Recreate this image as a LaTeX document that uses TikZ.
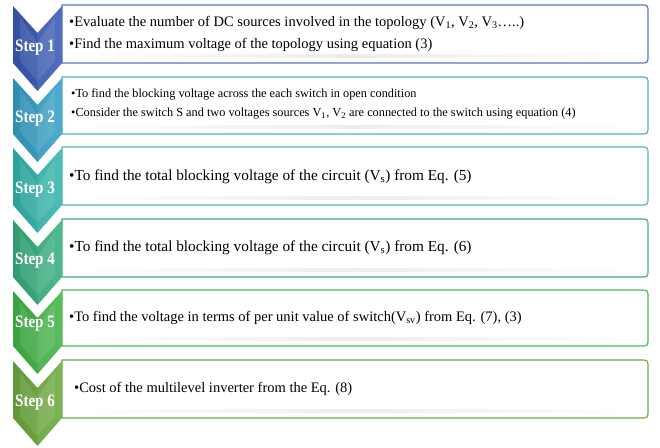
\documentclass[tikz,border=0pt]{standalone}
\usepackage{fontspec}
\setmainfont{Liberation Serif}
\usetikzlibrary{calc}

\definecolor{cA}{HTML}{3A5CB6}\definecolor{bA}{HTML}{5678C6}
\definecolor{cB}{HTML}{36A0C8}\definecolor{bB}{HTML}{4DAFC6}
\definecolor{cC}{HTML}{33B6AE}\definecolor{bC}{HTML}{4DBCAE}
\definecolor{cD}{HTML}{36B07E}\definecolor{bD}{HTML}{40AE78}
\definecolor{cE}{HTML}{44B648}\definecolor{bE}{HTML}{52B655}
\definecolor{cF}{HTML}{6DAB3F}\definecolor{bF}{HTML}{70A846}

\tikzset{
  steptext/.style={font=\fontsize{14.5}{16}\selectfont, anchor=west, inner sep=0pt},
  bigtext/.style={font=\fontsize{15.3}{17}\selectfont, anchor=west, inner sep=0pt},
  smalltext/.style={font=\fontsize{12.3}{14}\selectfont, anchor=west, inner sep=0pt},
  steplabel/.style={font=\bfseries\fontsize{17.5}{19}\selectfont, text=white, inner sep=0pt, xscale=0.86},
}

% one step: #1 top of box, #2 bottom of box, #3 fill colour, #4 border colour, #5 name
\newcommand{\stepblock}[5]{%
  % text panel with rounded right corners
  \draw[#4, line width=1.2pt, fill=white]
    (62,#1) -- (640,#1) .. controls (648,#1) .. (648,#1+8)
    -- (648,#2-8) .. controls (648,#2) .. (640,#2) -- (62,#2) -- cycle;
  \shade[left color=white, right color=white, middle color=gray!14]
    (72,#2-9) rectangle (638,#2-6);
  % chevron
  \coordinate (#5-tl) at (13,#1+1);
  \coordinate (#5-n)  at (37.5,#1+28);
  \coordinate (#5-tr) at (62,#1+1);
  \coordinate (#5-br) at (62,#2);
  \coordinate (#5-p)  at (37.5,#2+28);
  \coordinate (#5-bl) at (13,#2);
  \shade[left color=#3!88!black, right color=#3!96!white]
    (#5-tl) -- (#5-n) -- (#5-tr) -- (#5-br) -- (#5-p) -- (#5-bl) -- cycle;
  \fill[white, opacity=0.08]
    (#5-n) -- (#5-tr) -- (#5-br) -- (#5-p) -- cycle;
  \fill[white, opacity=0.10]
    ($(#5-n)+(0,10)$) -- (55,#1+12) -- (55,#2-2) -- ($(#5-p)+(0,-10)$) -- (20,#2-2) -- (20,#1+12) -- cycle;
}

\begin{document}
\begin{tikzpicture}[x=1pt, y=-1pt]
\useasboundingbox (0,0) rectangle (660,447);
\fill[white] (0,0) rectangle (660,447);

\stepblock{5}{63}{cA}{bA}{s1}
\stepblock{77}{134}{cB}{bB}{s2}
\stepblock{147}{205}{cC}{bC}{s3}
\stepblock{219}{277}{cD}{bD}{s4}
\stepblock{290}{346}{cE}{bE}{s5}
\stepblock{360}{418}{cF}{bF}{s6}

\node[steplabel] (l1) at (35,48) {Step 1};
\node[steplabel] (l2) at (35,119) {Step 2};
\node[steplabel] (l3) at (35,190) {Step 3};
\node[steplabel] (l4) at (35,261) {Step 4};
\node[steplabel] (l5) at (35,324) {Step 5};
\node[steplabel] (l6) at (35,403) {Step 6};

\node[steptext] (t1a) at (69,23) {\textbullet Evaluate the number of DC sources involved in the topology (V\textsubscript{1}, V\textsubscript{2}, V\textsubscript{3}\dots..)};
\node[steptext] (t1b) at (69,45) {\textbullet Find the maximum voltage of the topology using equation (3)};
\node[smalltext] (t2a) at (71,94) {\textbullet To find the blocking voltage across the each switch in open condition};
\node[smalltext] (t2b) at (71,114) {\textbullet Consider the switch S and two voltages sources V\textsubscript{1}, V\textsubscript{2} are connected to the switch using equation (4)};
\node[bigtext] (t3) at (69,177) {\textbullet To find the total blocking voltage of the circuit (V\textsubscript{s}) from Eq. (5)};
\node[bigtext] (t4) at (69,248) {\textbullet To find the total blocking voltage of the circuit (V\textsubscript{s}) from Eq. (6)};
\node[steptext] (t5) at (69,318) {\textbullet To find the voltage in terms of per unit value of switch(V\textsubscript{sv}) from Eq. (7), (3)};
\node[steptext] (t6) at (74,389) {\textbullet Cost of the multilevel inverter from the Eq. (8)};
\end{tikzpicture}
\end{document}
